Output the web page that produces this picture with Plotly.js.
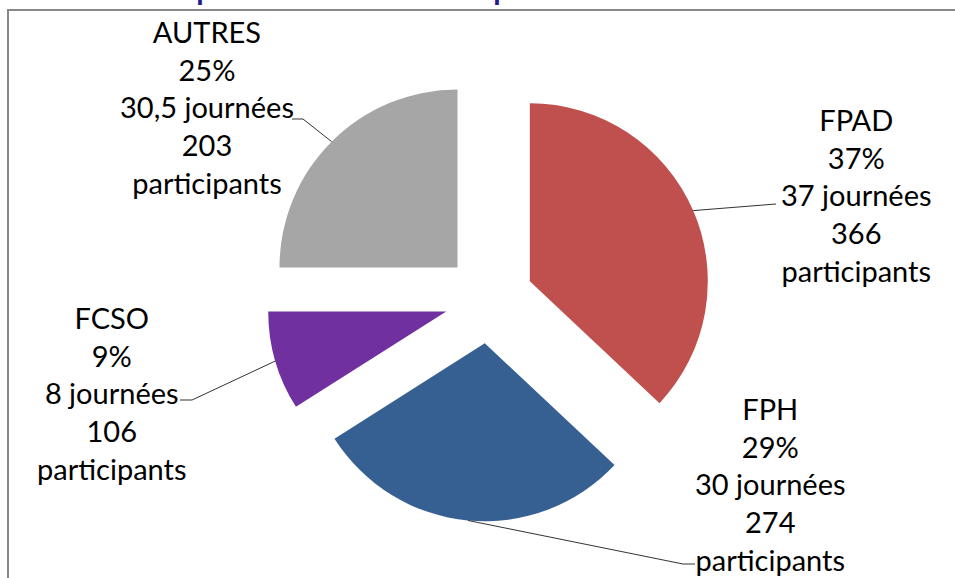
<!DOCTYPE html>
<html>
<head>
<meta charset="utf-8">
<script src="https://cdn.plot.ly/plotly-3.0.1.min.js"></script>
<style>html,body{margin:0;padding:0;background:#fff;}#chart{width:955px;height:578px;}</style>
</head>
<body>
<div id="chart"></div>
<script>
// ---- data ----
const filieres = ['FPAD', 'FPH', 'FCSO', 'AUTRES'];
const pourcentages = [37, 29, 9, 25];
const journees = ['37', '30', '8', '30,5'];
const participants = [366, 274, 106, 203];
const couleurs = ['#C0504D', '#376092', '#7030A0', '#A6A6A6'];
const titre = 'Répartition des activités par filière de formation';

// ---- layout constants ----
const W = 955, H = 578;
const PULL = 0.25;
const domX = [0.2, 0.824];
const domY = [0.0978, 0.8677];
const FONT = 'Lato, "Liberation Sans", Arial, sans-serif';
// label block centres (px) and leader-line elbow points (px), in slice order
const labelPos = [[856, 195], [770, 484], [112, 393], [207, 107]];
const labelEnds = [
  [[776, 204], [776, 204]],
  [[695, 564], [683, 564]],
  [[180, 400], [192, 400]],
  [[292, 119], [303, 119]]
];

const px = x => x / W;
const py = y => 1 - y / H;

// pie geometry (matches Plotly's own pie sizing with margins 0)
const cx = W * (domX[0] + domX[1]) / 2;
const cy = H * (1 - (domY[0] + domY[1]) / 2);
const r = Math.min(W * (domX[1] - domX[0]), H * (domY[1] - domY[0])) / 2 / (1 + PULL);
const total = pourcentages.reduce((a, b) => a + b, 0);

const annotations = [];
const shapes = [];
let cum = 0;
pourcentages.forEach((v, i) => {
  const mid = 2 * Math.PI * (cum + v / 2) / total;
  cum += v;
  const ax = cx + (1 + PULL) * r * Math.sin(mid);
  const ay = cy - (1 + PULL) * r * Math.cos(mid);
  const [p1, p2] = labelEnds[i];
  shapes.push({
    type: 'path', xref: 'paper', yref: 'paper',
    path: `M ${px(p1[0])} ${py(p1[1])} L ${px(p2[0])} ${py(p2[1])} L ${px(ax)} ${py(ay)}`,
    line: {color: '#333333', width: 1}
  });
  annotations.push({
    xref: 'paper', yref: 'paper', x: px(labelPos[i][0]), y: py(labelPos[i][1]),
    xanchor: 'center', yanchor: 'middle', showarrow: false, align: 'center',
    text: `${filieres[i]}<br>${v}%<br>${journees[i]} journées<br>${participants[i]}<br>participants`,
    font: {family: FONT, size: 29, color: '#000000'}
  });
});

// frame
shapes.push({
  type: 'rect', xref: 'paper', yref: 'paper', layer: 'below',
  x0: px(8), y0: py(590), x1: px(970), y1: py(10),
  line: {color: '#888888', width: 2}, fillcolor: 'rgba(0,0,0,0)'
});

// title (cut off at the top of the picture)
annotations.push({
  xref: 'paper', yref: 'paper', x: px(480), y: py(8), xanchor: 'center', yanchor: 'bottom',
  showarrow: false, text: '<b>' + titre + '</b>',
  font: {family: FONT, size: 30, color: '#221A8E'}
});

const trace = {
  type: 'pie',
  labels: filieres,
  values: pourcentages,
  marker: {colors: couleurs, line: {width: 0}},
  sort: false,
  direction: 'clockwise',
  rotation: 0,
  pull: PULL,
  textinfo: 'none',
  hoverinfo: 'none',
  domain: {x: domX, y: domY},
  showlegend: false
};

Plotly.newPlot('chart', [trace], {
  width: W, height: H,
  margin: {l: 0, r: 0, t: 0, b: 0},
  paper_bgcolor: '#ffffff',
  showlegend: false,
  annotations: annotations,
  shapes: shapes
}, {staticPlot: true});
</script>
</body>
</html>
